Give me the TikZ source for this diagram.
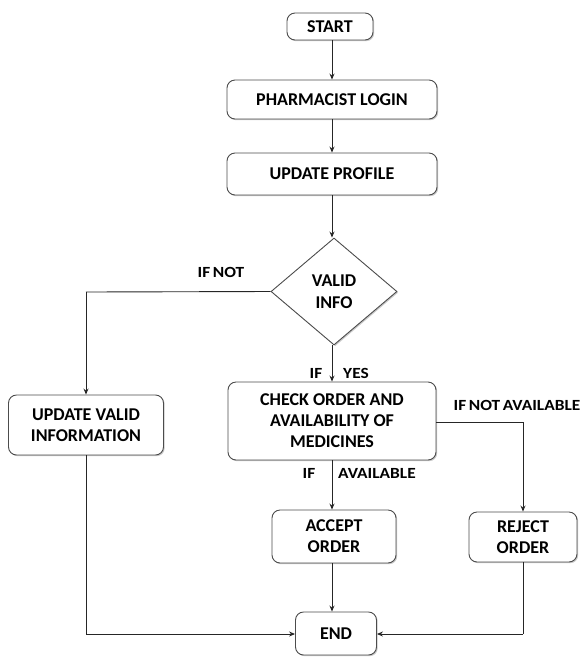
\documentclass[tikz,border=0pt]{standalone}
\usepackage{fontspec}
\setmainfont{Carlito}
\newfontfamily\lblfont[FakeStretch=1.12]{Carlito}
\usetikzlibrary{shapes.geometric,arrows.meta,shadows}
\begin{document}
\begin{tikzpicture}[x=1pt,y=-1pt,
  box/.style={draw=black!70,line width=0.9pt,rounded corners=8pt,fill=white,
    drop shadow={shadow xshift=1.2pt,shadow yshift=-1.2pt,fill=black!35,opacity=0.6},
    align=center,font=\bfseries\fontsize{18}{21}\selectfont,inner sep=2pt},
  dia/.style={draw=black!70,line width=0.9pt,diamond,fill=white,inner sep=0pt,
    drop shadow={shadow xshift=1.2pt,shadow yshift=-1.2pt,fill=black!35,opacity=0.6},
    align=center,font=\bfseries\fontsize{18}{22}\selectfont},
  lbl/.style={font=\lblfont\bfseries\fontsize{15.5}{18}\selectfont,inner sep=0pt},
  arr/.style={draw=black!85,line width=0.9pt,-{Stealth[length=6pt,width=5pt]}},
  ln/.style={draw=black!85,line width=0.9pt}]
\useasboundingbox (0,0) rectangle (582,657);
\node[box,minimum width=86pt,minimum height=27pt] (start) at (330,26.5) {START};
\node[box,minimum width=210pt,minimum height=39pt] (login) at (332,99.5) {PHARMACIST LOGIN};
\node[box,minimum width=210pt,minimum height=42pt] (profile) at (332,174) {UPDATE PROFILE};
\node[dia,minimum width=126pt,minimum height=107pt] (valid) at (334,291.5) {VALID\\INFO};
\node[box,minimum width=208pt,minimum height=78pt] (check) at (332,421) {CHECK ORDER AND\\AVAILABILITY OF\\MEDICINES};
\node[box,minimum width=155pt,minimum height=60pt] (upd) at (86,425) {UPDATE VALID\\INFORMATION};
\node[box,minimum width=124pt,minimum height=53pt] (accept) at (334,536.5) {ACCEPT\\ORDER};
\node[box,minimum width=108pt,minimum height=50pt] (reject) at (523,537) {REJECT\\ORDER};
\node[box,minimum width=81pt,minimum height=43pt] (end) at (336,633.5) {END};
\coordinate (c1) at (86,292);
\coordinate (c2) at (523,422);
\coordinate (c3) at (86,634);
\coordinate (c4) at (523,634);
\draw[arr] (start.south -| 332,0) -- (login.north);
\draw[arr] (login.south) -- (profile.north);
\draw[arr] (profile.south) -- (valid.north -| profile.south);
\draw[arr] (valid.south -| profile.south) -- (check.north);
\draw[ln] (valid.west) -- (c1);
\draw[arr] (c1) -- (upd.north);
\draw[ln] (check.east |- c2) -- (c2);
\draw[arr] (c2) -- (reject.north);
\draw[arr] (check.south) -- (check.south |- accept.north);
\draw[arr] (check.south |- accept.south) -- (check.south |- end.north);
\draw[ln] (upd.south) -- (c3);
\draw[arr] (c3) -- (end.west |- c3);
\draw[ln] (reject.south) -- (c4);
\draw[arr] (c4) -- (end.east |- c4);
\node[lbl] (lnot) at (221,272) {IF\,NOT};
\node[lbl] (lif1) at (316,373) {IF};
\node[lbl] (lyes) at (356,373) {YES};
\node[lbl] (lna) at (517,405) {IF\,NOT\,AVAILABLE};
\node[lbl] (lif2) at (309,473) {IF};
\node[lbl] (lav) at (377,473) {AVAILABLE};
\end{tikzpicture}
\end{document}
